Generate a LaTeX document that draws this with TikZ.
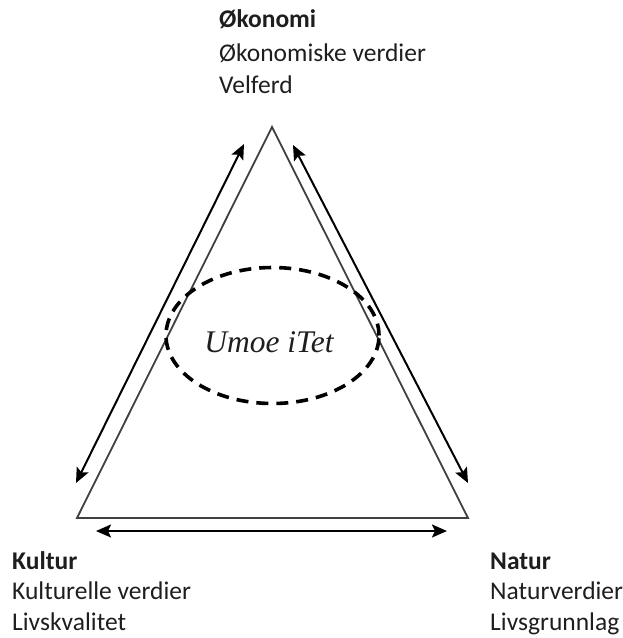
\documentclass[tikz,border=0pt]{standalone}
\usepackage{fontspec}
\setmainfont{Carlito}
\newfontfamily\umoefont{Liberation Serif}
\usetikzlibrary{arrows.meta,shapes.geometric}
\definecolor{txt}{HTML}{1E1E1E}
\tikzset{
  lbl/.style={anchor=base west,inner sep=0pt,text=txt,font=\fontsize{25.5}{28}\selectfont},
  lblb/.style={lbl,font=\fontsize{25.5}{28}\selectfont\bfseries},
  side/.style={line width=1.8pt,draw=black!75},
  dbl/.style={line width=2pt,draw=black,{Stealth[length=15pt,width=13pt,inset=3pt]}-{Stealth[length=15pt,width=13pt,inset=3pt]}},
}
\begin{document}
\begin{tikzpicture}[x=1pt,y=-1pt]
\useasboundingbox (0,0) rectangle (623,638);
% triangle
\coordinate (T) at (272,127);
\coordinate (L) at (77,518);
\coordinate (R) at (468,518);
\draw[side,line join=miter] (T) -- (L) -- (R) -- cycle;
% arrows
\coordinate (la) at (76,483);
\coordinate (lb) at (244,144);
\coordinate (ra) at (293,145);
\coordinate (rb) at (468,483);
\coordinate (ba) at (96,531);
\coordinate (bb) at (447,531);
\draw[dbl] (la) -- (lb);
\draw[dbl] (ra) -- (rb);
\draw[dbl] (ba) -- (bb);
% ellipse
\node[ellipse,draw=black,line width=3.6pt,dash pattern=on 12pt off 8pt,minimum width=213pt,minimum height=136pt,inner sep=0pt] (ell) at (272.5,335.5) {};
\node[anchor=base,inner sep=0pt,text=txt,font=\umoefont\itshape\fontsize{31.5}{34}\selectfont] (umoe) at (269,352) {Umoe iTet};
% labels
\node[lblb] (ok1) at (219,27) {Økonomi};
\node[lbl] (ok2) at (219,61) {Økonomiske verdier};
\node[lbl] (ok3) at (219,93) {Velferd};
\node[lblb] (ku1) at (12,569) {Kultur};
\node[lbl] (ku2) at (12,599) {Kulturelle verdier};
\node[lbl] (ku3) at (12,630) {Livskvalitet};
\node[lblb] (na1) at (490,569) {Natur};
\node[lbl] (na2) at (490,599) {Naturverdier};
\node[lbl] (na3) at (490,630) {Livsgrunnlag};
\end{tikzpicture}
\end{document}
